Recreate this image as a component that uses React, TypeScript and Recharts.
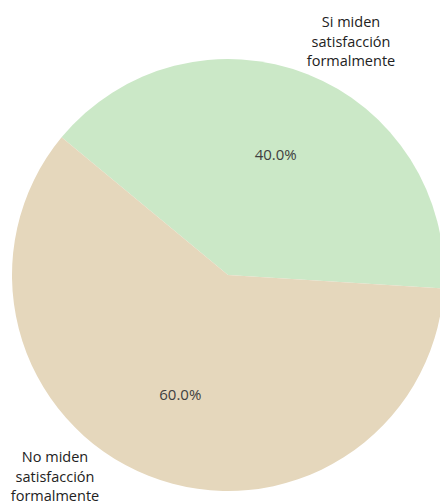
import { PieChart, Pie, Cell } from "recharts";

const names = ["Si miden satisfacción formalmente", "No miden satisfacción formalmente"];
const values = [40, 60];
const colors = ["#cbe8c7", "#e5d7bc"];

// where each outer label block is centred (relative to pie centre)
const nameOffsets = [
  { dx: 123, dy: -233 },
  { dx: -173, dy: 202 },
];

const data = names.map((name, i) => ({ name, value: values[i] }));
const total = values.reduce((a, b) => a + b, 0);

const CX = 228;
const CY = 275;
const R = 216;
const RAD = Math.PI / 180;

const renderLabel = (props: any) => {
  const { midAngle, index, value } = props;
  const px = CX + R * 0.6 * Math.cos(-midAngle * RAD);
  const py = CY + R * 0.6 * Math.sin(-midAngle * RAD);
  const off = nameOffsets[index];
  const words = names[index].split(" ");
  const lines = [words.slice(0, 2).join(" "), words[2], words[3]];
  return (
    <g>
      <text
        x={px}
        y={py + 5}
        textAnchor="middle"
        fontSize={15}
        fontFamily="Open Sans"
        fill="#404040"
      >
        {((value / total) * 100).toFixed(1)}%
      </text>
      <text
        x={CX + off.dx}
        y={CY + off.dy - 20 + 5}
        textAnchor="middle"
        fontSize={14.5}
        fontFamily="Open Sans"
        fill="#222"
      >
        {lines.map((l, i) => (
          <tspan key={i} x={CX + off.dx} dy={i === 0 ? 0 : 19.5}>
            {l}
          </tspan>
        ))}
      </text>
    </g>
  );
};

export default function App() {
  return (
    <div style={{ position: "absolute", left: 0, top: 0, background: "#fff" }}>
      <PieChart width={440} height={504} margin={{ top: 0, right: 0, bottom: 0, left: 0 }}>
        <Pie
          data={data}
          dataKey="value"
          cx={CX}
          cy={CY}
          outerRadius={R}
          startAngle={-3.6}
          endAngle={356.4}
          stroke="none"
          label={renderLabel}
          labelLine={false}
          isAnimationActive={false}
        >
          {data.map((d, i) => (
            <Cell key={d.name} fill={colors[i]} />
          ))}
        </Pie>
      </PieChart>
    </div>
  );
}
